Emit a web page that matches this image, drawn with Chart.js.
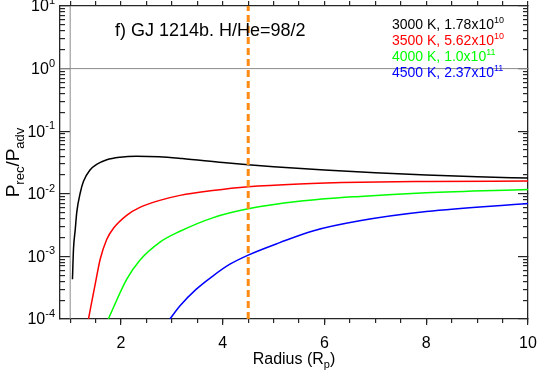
<!DOCTYPE html>
<html>
<head>
<meta charset="utf-8">
<script src="https://cdn.jsdelivr.net/npm/chart.js@4"></script>
<style>
  html, body { margin: 0; padding: 0; background: #fff; }
</style>
</head>
<body>
<canvas id="chart" width="538" height="374"></canvas>
<script>
// ---- data ----
const r3000 = [1.045, 1.065, 1.10, 1.13, 1.20, 1.26, 1.39, 1.52, 1.72, 1.98, 2.30, 2.75, 3.20, 4.00, 4.50, 5.00, 6.00, 7.00, 8.00, 9.00, 10.0];
const p3000 = [4.3e-4, 1.3e-3, 2.7e-3, 5.1e-3, 0.0105, 0.0157, 0.0240, 0.0294, 0.0350, 0.0384, 0.0398, 0.0390, 0.0365, 0.0315, 0.0290, 0.0270, 0.0240, 0.0217, 0.0200, 0.0188, 0.0178];

const r3500 = [1.36, 1.51, 1.59, 1.72, 1.85, 2.11, 2.37, 2.76, 3.16, 3.80, 4.50, 5.50, 6.70, 8.00, 10.0];
const p3500 = [1e-4, 4.3e-4, 9.0e-4, 1.88e-3, 2.81e-3, 4.53e-3, 6.07e-3, 7.85e-3, 9.44e-3, 0.0113, 0.0130, 0.0144, 0.0153, 0.0157, 0.0160];

const r4000 = [1.75, 2.11, 2.37, 2.76, 3.16, 3.80, 4.50, 5.50, 6.70, 8.00, 10.0];
const p4000 = [1e-4, 4.3e-4, 8.7e-4, 1.68e-3, 2.52e-3, 4.13e-3, 5.75e-3, 7.57e-3, 9.09e-3, 0.0104, 0.0117];

const r4500 = [2.96, 3.16, 3.48, 3.81, 4.14, 4.50, 5.12, 5.77, 6.69, 8.00, 10.0];
const p4500 = [1e-4, 1.63e-4, 3.0e-4, 4.9e-4, 7.5e-4, 1.05e-3, 1.66e-3, 2.55e-3, 3.70e-3, 5.2e-3, 7.0e-3];

const seriesLabels = ['3000 K, 1.78x10^10', '3500 K, 5.62x10^10', '4000 K, 1.0x10^11', '4500 K, 2.37x10^11'];
const seriesColors = ['#000000', '#ff0000', '#00ff00', '#0000ff'];

const markRadius = 4.5;        // orange dashed line
const xRange = [0.8, 10];
const yRange = [1e-4, 10];
const xTickValues = [2, 4, 6, 8, 10];
const xMinorStep = 0.5;
const yTickValues = [1e-4, 1e-3, 1e-2, 1e-1, 1, 10];
const titleText = 'f) GJ 1214b. H/He=98/2';

const FONT = '"Liberation Sans", Arial, sans-serif';
const AXIS = '#262626';

function pts(xs, ys) {
    return xs.map((x, i) => ({ x: x, y: ys[i] }));
}

// minor tick positions (every 0.5 in x, 2..9 per decade in y)
const xMinorValues = [];
for (let k = Math.ceil(xRange[0] / xMinorStep); k * xMinorStep <= xRange[1] + 1e-9; k++) xMinorValues.push(k * xMinorStep);
const yMinorValues = [];
yTickValues.slice(0, -1).forEach(d => { for (let m = 2; m <= 9; m++) yMinorValues.push(m * d); });

// text with a raised / lowered part
function drawRich(ctx, parts, x, y, align) {
    let total = 0;
    parts.forEach(p => { ctx.font = p.size + 'px ' + FONT; p.w = ctx.measureText(p.t).width; total += p.w; });
    let cx = align === 'right' ? x - total : align === 'center' ? x - total / 2 : x;
    parts.forEach(p => {
        ctx.font = p.size + 'px ' + FONT;
        ctx.fillText(p.t, cx, y + (p.dy || 0));
        cx += p.w;
    });
}

// ---- texts: 10^n labels, title, legend, axis titles ----
const idlText = {
    id: 'idlText',
    afterDraw(chart) {
        const ctx = chart.ctx;
        const a = chart.chartArea;
        const sy = chart.scales.y;
        ctx.save();
        ctx.fillStyle = '#000';
        ctx.textBaseline = 'middle';
        ctx.textAlign = 'left';
        sy.ticks.forEach(t => {
            const e = Math.round(Math.log10(t.value));
            const py = sy.getPixelForValue(t.value);
            drawRich(ctx, [{ t: '10', size: 16 }, { t: String(e), size: 11, dy: -6 }], 55, py + 1, 'right');
        });

        ctx.textBaseline = 'alphabetic';
        ctx.font = '18px ' + FONT;
        ctx.fillText(titleText, 115, 36);

        seriesLabels.forEach((s, i) => {
            const [base, exp] = s.split('^');
            ctx.fillStyle = seriesColors[i];
            drawRich(ctx, [{ t: base, size: 14 }, { t: exp, size: 9, dy: -6 }], 392, 29 + i * 16, 'left');
        });

        ctx.fillStyle = '#000';
        drawRich(ctx, [{ t: 'Radius (R', size: 16 }, { t: 'p', size: 11, dy: 4 }, { t: ')', size: 16 }],
            (a.left + a.right) / 2, 364, 'center');

        ctx.translate(19, (a.top + a.bottom) / 2);
        ctx.rotate(-Math.PI / 2);
        drawRich(ctx, [{ t: 'P', size: 19 }, { t: 'rec', size: 13, dy: 5 }, { t: '/P', size: 19 }, { t: 'adv', size: 13, dy: 5 }],
            0, 0, 'center');
        ctx.restore();
    }
};

// a scale that only draws tick marks (and optionally the frame border)
function tickScale(type, position, range, values, len, size, weight, border) {
    return {
        type: type,
        position: position,
        min: range[0],
        max: range[1],
        weight: weight,
        afterBuildTicks: (s) => { s.ticks = values.map(v => ({ value: v })); },
        afterFit: (s) => {
            if (s.isHorizontal()) { s.height = size; s.paddingLeft = 0; s.paddingRight = 0; }
            else { s.width = size; s.paddingTop = 0; s.paddingBottom = 0; }
        },
        grid: { display: true, drawOnChartArea: false, drawTicks: true, tickLength: len,
                tickColor: AXIS, tickWidth: 1.2, color: AXIS, lineWidth: 1.2 },
        border: { display: border, color: AXIS, width: 1.3 },
        ticks: { display: false }
    };
}

const curveStyle = { borderWidth: 1.5, pointRadius: 0, cubicInterpolationMode: 'monotone', fill: false, clip: 0 };

const xMain = tickScale('linear', 'bottom', xRange, xTickValues, 6, 55, 1, true);
xMain.ticks = { display: true, color: '#000', padding: 9, font: { family: FONT, size: 16 }, maxRotation: 0 };

new Chart(document.getElementById('chart'), {
    type: 'line',
    data: {
        datasets: [
            { label: 'y=1', data: pts(xRange, [1, 1]), borderColor: '#8c8c8c', borderWidth: 1, pointRadius: 0, clip: 0 },
            { label: 'x=1', data: pts([1, 1], yRange), borderColor: '#8c8c8c', borderWidth: 1, pointRadius: 0, clip: 0 },
            { label: 'mark', data: pts([markRadius, markRadius], yRange), borderColor: '#ff8a14', borderWidth: 3,
              borderDash: [7, 4], pointRadius: 0, clip: 0 },
            Object.assign({ label: seriesLabels[0], data: pts(r3000, p3000), borderColor: seriesColors[0] }, curveStyle),
            Object.assign({ label: seriesLabels[1], data: pts(r3500, p3500), borderColor: seriesColors[1] }, curveStyle),
            Object.assign({ label: seriesLabels[2], data: pts(r4000, p4000), borderColor: seriesColors[2] }, curveStyle),
            Object.assign({ label: seriesLabels[3], data: pts(r4500, p4500), borderColor: seriesColors[3] }, curveStyle)
        ]
    },
    options: {
        responsive: false,
        animation: false,
        layout: { padding: { top: 6, right: 10, left: 0, bottom: 0 } },
        plugins: { legend: { display: false }, tooltip: { enabled: false } },
        scales: {
            x: xMain,
            xMinor: tickScale('linear', 'bottom', xRange, xMinorValues, 4, 0, 0, false),
            xTop: tickScale('linear', 'top', xRange, xMinorValues, 5, 0, 0, true),
            y: tickScale('logarithmic', 'left', yRange, yTickValues, -10, 60, 1, true),
            yMinor: tickScale('logarithmic', 'left', yRange, yMinorValues, -5, 0, 0, false),
            yRight: tickScale('logarithmic', 'right', yRange, yTickValues, -10, 0, 0, true),
            yRightMinor: tickScale('logarithmic', 'right', yRange, yMinorValues, -5, 0, 1, false)
        }
    },
    plugins: [idlText]
});
</script>
</body>
</html>
